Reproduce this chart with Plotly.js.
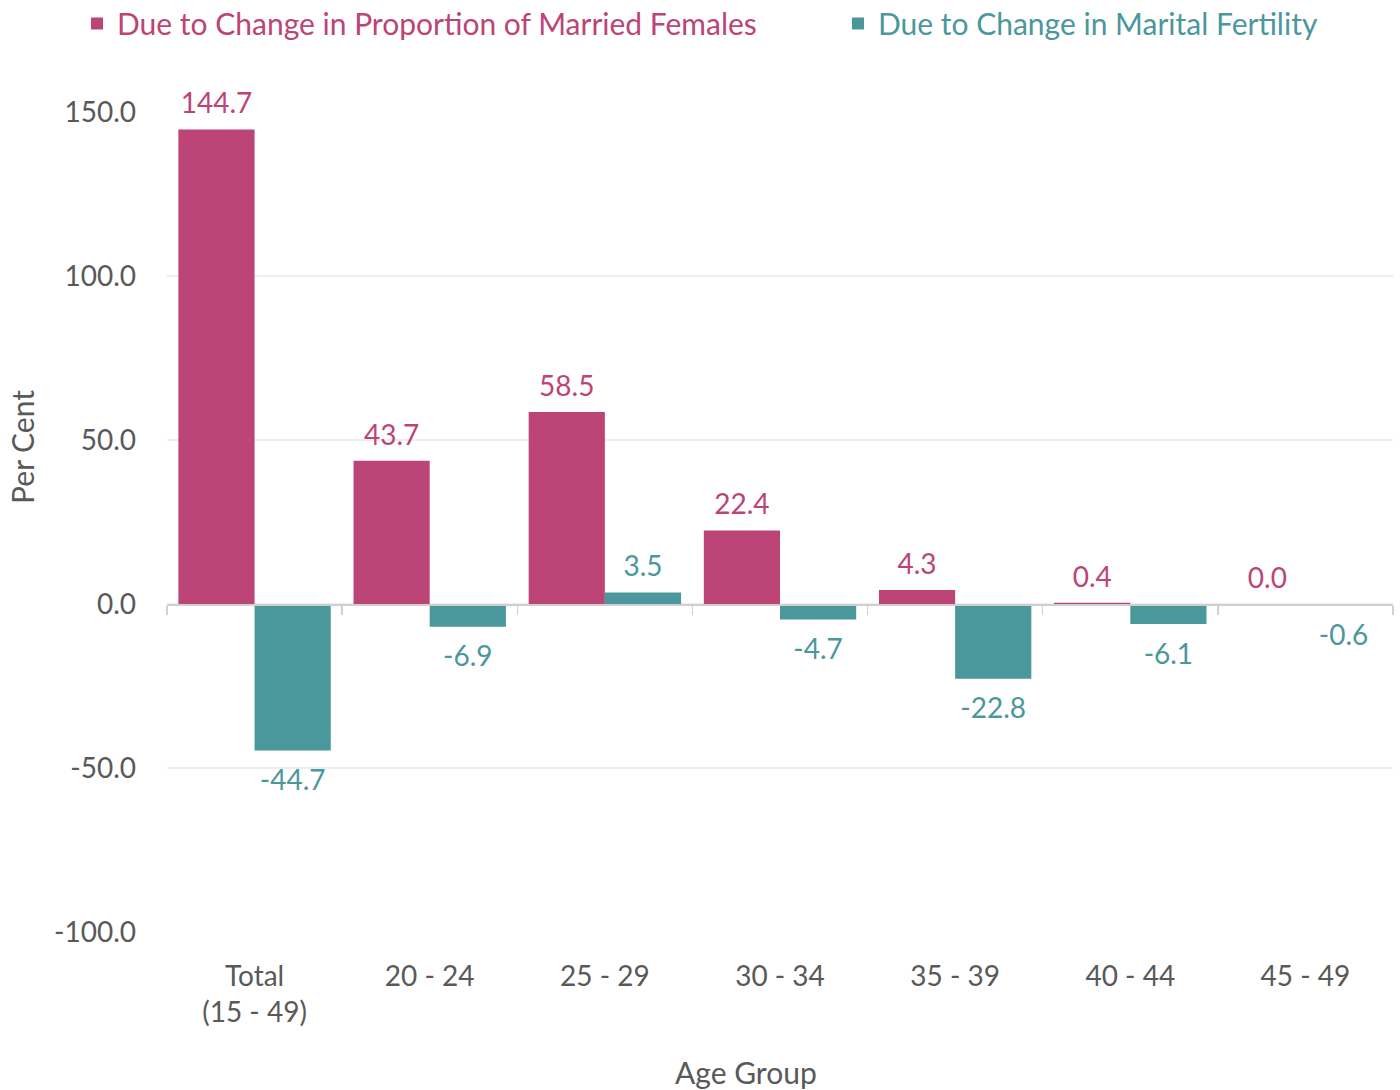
<!DOCTYPE html>
<html>
<head>
<meta charset="utf-8">
<script src="https://cdn.plot.ly/plotly-3.0.1.min.js"></script>
<style>html,body{margin:0;padding:0;background:#fff;}#chart{width:1400px;height:1090px;}</style>
</head>
<body>
<div id="chart"></div>
<script>
const categories = ["Total<br>(15 - 49)", "20 - 24", "25 - 29", "30 - 34", "35 - 39", "40 - 44", "45 - 49"];
const marriedFemales = [144.7, 43.7, 58.5, 22.4, 4.3, 0.4, 0.0];
const maritalFertility = [-44.7, -6.9, 3.5, -4.7, -22.8, -6.1, -0.6];
const seriesNames = ["Due to Change in Proportion of Married Females", "Due to Change in Marital Fertility"];
const yTickVals = [-100, -50, 0, 50, 100, 150];
const yTickText = ["-100.0", "-50.0", "0.0", "50.0", "100.0", "150.0"];
const pink = "#BC4476";
const teal = "#4A979C";
const grey = "#595959";
const font = "Lato, 'Open Sans', sans-serif";

function barTrace(name, legend, values, color, group) {
  return {
    type: "bar", name: name, legend: legend, x: categories, y: values,
    offsetgroup: group, marker: {color: color}, hoverinfo: "x+y"
  };
}
// value labels: transparent markers at the bar ends, text placed just beyond them
function labelTrace(values, color, group) {
  return {
    type: "scatter", mode: "markers+text", x: categories, y: values,
    offsetgroup: group, showlegend: false, hoverinfo: "skip", cliponaxis: false,
    marker: {size: values.map(v => v < 0 ? 28 : 13), opacity: 0, color: color},
    text: values.map(v => v.toFixed(1)),
    textposition: values.map(v => v < 0 ? "bottom center" : "top center"),
    textfont: {color: color, size: 28, family: font}
  };
}

const traces = [
  barTrace(seriesNames[0], "legend", marriedFemales, pink, "a"),
  barTrace(seriesNames[1], "legend2", maritalFertility, teal, "b"),
  labelTrace(marriedFemales, pink, "a"),
  labelTrace(maritalFertility, teal, "b"),
  {
    type: "scatter", mode: "markers", x: categories, y: categories.map(() => null),
    xaxis: "x2", showlegend: false, hoverinfo: "skip"
  }
];

const layout = {
  width: 1400, height: 1090,
  margin: {l: 167, r: 7, t: 112, b: 158, autoexpand: false},
  paper_bgcolor: "#fff", plot_bgcolor: "#fff",
  font: {family: font, size: 28, color: grey},
  barmode: "group", bargap: 0.13, bargroupgap: 0,
  scattermode: "group", scattergap: 0.13,
  showlegend: true,
  legend: {
    orientation: "h", x: -0.0734, xanchor: "left", y: 1.108, yanchor: "middle",
    font: {size: 30, family: font, color: pink}, bgcolor: "rgba(0,0,0,0)",
    itemclick: false, itemdoubleclick: false
  },
  legend2: {
    orientation: "h", x: 0.5473, xanchor: "left", y: 1.108, yanchor: "middle",
    font: {size: 30, family: font, color: teal}, bgcolor: "rgba(0,0,0,0)",
    itemclick: false, itemdoubleclick: false
  },
  xaxis: {
    type: "category", categoryarray: categories, categoryorder: "array",
    showgrid: false, showline: false, ticks: "", zeroline: false,
    ticklabelstandoff: 25,
    tickfont: {size: 28, color: grey, family: font},
    automargin: false
  },
  xaxis2: {
    type: "category", categoryarray: categories, categoryorder: "array",
    overlaying: "x", matches: "x", anchor: "free", position: 0.4,
    showline: true, linecolor: "#d0d0d0", linewidth: 1.5,
    ticks: "outside", tickson: "boundaries", ticklen: 9, tickcolor: "#d0d0d0", tickwidth: 1.5,
    showticklabels: false, showgrid: false, zeroline: false
  },
  yaxis: {
    range: [-100, 150], tickvals: yTickVals, ticktext: yTickText,
    showgrid: true, gridcolor: "#eeeeee", gridwidth: 1.5,
    zeroline: false, showline: false, ticks: "",
    ticklabelstandoff: 30,
    tickfont: {size: 28, color: grey, family: font},
    automargin: false
  },
  annotations: [
    {text: "Per Cent", xref: "paper", yref: "paper", x: -0.1183, y: 0.5915,
     xanchor: "center", yanchor: "middle", textangle: -90, showarrow: false,
     font: {size: 30, color: grey, family: font}},
    {text: "Age Group", xref: "paper", yref: "paper", x: 0.4723, y: -0.1707,
     xanchor: "center", yanchor: "middle", showarrow: false,
     font: {size: 30, color: grey, family: font}}
  ]
};

Plotly.newPlot("chart", traces, layout, {displayModeBar: false, staticPlot: true});
</script>
</body>
</html>
